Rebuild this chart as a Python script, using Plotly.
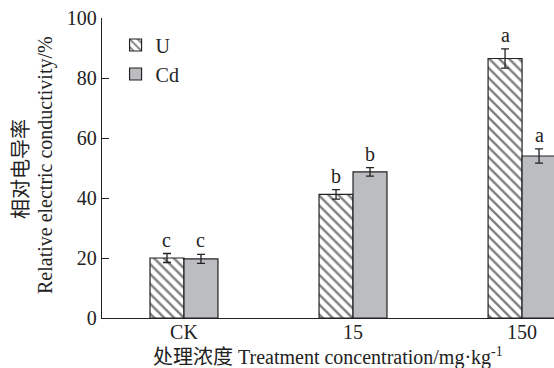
import plotly.graph_objects as go

categories = ["CK", "15", "150"]
u_values = [20.0, 41.2, 86.5]
u_errors = [1.5, 1.6, 3.2]
cd_values = [19.7, 48.7, 54.0]
cd_errors = [1.5, 1.4, 2.4]
u_letters = ["c", "b", "a"]
cd_letters = ["c", "b", "a"]
y_ticks = [0, 20, 40, 60, 80, 100]

FONT = "Liberation Serif, Times New Roman, Noto Sans CJK SC, serif"
INK = "#222222"
GRAY = "#bcbdc1"
BAR_W = 0.201

fig = go.Figure()
fig.add_trace(go.Bar(
    name="U", x=categories, y=u_values, legendgroup="u",
    marker=dict(color="white", line=dict(color=INK, width=1.2),
                pattern=dict(shape="\\", fgcolor="#000000", bgcolor="white", size=7, solidity=0.34)),
    error_y=dict(type="data", array=u_errors, color=INK, thickness=1.3, width=4),
))
fig.add_trace(go.Bar(
    name="Cd", x=categories, y=cd_values, legendgroup="cd",
    marker=dict(color=GRAY, line=dict(color=INK, width=1.2)),
    error_y=dict(type="data", array=cd_errors, color=INK, thickness=1.3, width=4),
))

annotations = []
for i, cat in enumerate(categories):
    for off, vals, errs, lets in ((-BAR_W / 2, u_values, u_errors, u_letters),
                                  (BAR_W / 2, cd_values, cd_errors, cd_letters)):
        annotations.append(dict(
            x=i + off, y=vals[i] + errs[i], xref="x", yref="y",
            text=lets[i], showarrow=False, yanchor="bottom", xanchor="center",
            yshift=1, font=dict(family=FONT, size=20, color=INK)))

annotations.append(dict(x=0, y=0.497, xref="paper", yref="paper", xshift=-81,
                        text="相对电导率", textangle=-90, showarrow=False,
                        xanchor="center", yanchor="middle",
                        font=dict(family=FONT, size=20, color=INK)))
annotations.append(dict(x=0, y=0.51, xref="paper", yref="paper", xshift=-57,
                        text="Relative electric conductivity/%", textangle=-90, showarrow=False,
                        xanchor="center", yanchor="middle",
                        font=dict(family=FONT, size=20, color=INK)))
annotations.append(dict(x=0.5, y=0, xref="paper", yref="paper", yshift=-38,
                        text="处理浓度 Treatment concentration/mg·kg<sup>-1</sup>",
                        showarrow=False, xanchor="center", yanchor="middle",
                        font=dict(family=FONT, size=20, color=INK)))

fig.update_layout(
    width=554, height=368,
    margin=dict(l=102, r=0, t=18, b=50),
    paper_bgcolor="white", plot_bgcolor="white",
    barmode="group", bargap=1 - 2 * BAR_W, bargroupgap=0,
    font=dict(family=FONT, size=20, color=INK),
    showlegend=True,
    legend=dict(x=0.03, y=0.975, xanchor="left", yanchor="top",
                bgcolor="rgba(0,0,0,0)", font=dict(family=FONT, size=20, color=INK),
                tracegroupgap=3, traceorder="normal"),
    annotations=annotations,
    xaxis=dict(range=[-0.485, 2.189], showline=True, linecolor=INK, linewidth=1.3,
               ticks="", showgrid=False, zeroline=False, ticklabelstandoff=-4,
               tickfont=dict(family=FONT, size=20, color=INK)),
    yaxis=dict(range=[0, 100], tickvals=y_ticks, showline=True, linecolor=INK, linewidth=1.3,
               ticks="inside", ticklen=7, tickcolor=INK, tickwidth=1.3,
               showgrid=False, zeroline=False,
               tickfont=dict(family=FONT, size=20, color=INK)),
)

fig.write_html("out.html", config={"displayModeBar": False},
               post_script="document.body.style.margin='0';document.body.style.padding='0';")
